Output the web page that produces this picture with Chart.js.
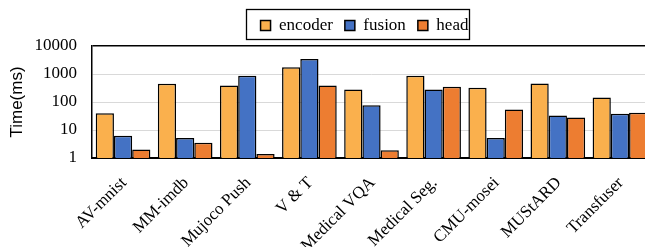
<!DOCTYPE html>
<html>
<head>
<meta charset="utf-8">
<script src="https://cdn.jsdelivr.net/npm/chart.js@4/dist/chart.umd.min.js"></script>
<style>
  html, body { margin: 0; padding: 0; background: #fff; overflow: hidden; }
  #wrap { width: 645px; height: 247px; overflow: hidden; }
</style>
</head>
<body>
<div id="wrap"><canvas id="grafico" width="651" height="247"></canvas></div>
<script>
const categorias = ['AV-mnist', 'MM-imdb', 'Mujoco Push', 'V & T', 'Medical VQA', 'Medical Seg.', 'CMU-mosei', 'MUStARD', 'Transfuser'];
const encoder = [40, 450, 390, 1750, 280, 860, 320, 460, 145];
const fusion = [6.2, 5.2, 860, 3400, 76, 280, 5.2, 33, 38];
const head = [2.0, 3.5, 1.4, 390, 1.9, 350, 54, 28, 41];
const ticksY = [1, 10, 100, 1000, 10000];

const serif = "'Liberation Serif', 'Times New Roman', serif";
const sans = "'Liberation Sans', Arial, sans-serif";

// marco alrededor de la leyenda + desplazarla como en el original
const marcoLeyenda = {
  id: 'marcoLeyenda',
  afterLayout(chart) {
    const lg = chart.legend;
    lg.left += 39;
    lg.right += 39;
    lg.top -= 2;
    lg.bottom -= 2;
  },
  afterDraw(chart) {
    const boxes = chart.legend.legendHitBoxes;
    if (!boxes || !boxes.length) return;
    const first = boxes[0], last = boxes[boxes.length - 1];
    const ctx = chart.ctx;
    ctx.save();
    ctx.strokeStyle = '#000';
    ctx.lineWidth = 1.3;
    const x0 = first.left - 15, x1 = last.left + last.width;
    const y0 = first.top - 8, y1 = first.top + first.height + 5;
    ctx.strokeRect(Math.round(x0) + 0.5, Math.round(y0) + 0.5, Math.round(x1 - x0), Math.round(y1 - y0));
    ctx.restore();
  }
};

const barra = (label, data, color) => ({
  label, data,
  backgroundColor: color,
  borderColor: '#000',
  borderWidth: 1.5,
  categoryPercentage: 0.88,
  barPercentage: 1.0
});

new Chart(document.getElementById('grafico'), {
  type: 'bar',
  data: {
    labels: categorias,
    datasets: [
      barra('encoder', encoder, '#FAB04D'),
      barra('fusion', fusion, '#4472C4'),
      barra('head', head, '#ED7D31')
    ]
  },
  options: {
    responsive: false,
    animation: false,
    devicePixelRatio: 1,
    layout: { padding: { top: 7, right: 0, left: 0, bottom: 0 } },
    plugins: {
      legend: {
        position: 'top',
        labels: {
          color: '#000',
          font: { family: serif, size: 17 },
          boxWidth: 10,
          boxHeight: 10,
          padding: 12
        }
      },
      tooltip: { enabled: false }
    },
    scales: {
      x: {
        grid: { display: false },
        border: { display: true, color: '#000', width: 2 },
        ticks: {
          color: '#000',
          font: { family: serif, size: 17 },
          minRotation: 45,
          maxRotation: 45,
          autoSkip: false,
          padding: 7,
          labelOffset: 1
        },
        afterFit(scale) { scale.height = 89; }
      },
      y: {
        type: 'logarithmic',
        min: 1,
        max: 10000,
        afterBuildTicks(scale) { scale.ticks = ticksY.map(v => ({ value: v })); },
        ticks: {
          color: '#000',
          font: { family: serif, size: 17 },
          padding: 15,
          callback: v => String(v)
        },
        grid: {
          drawTicks: false,
          color: ctx => (ctx.tick && ctx.tick.value === 10000) ? '#000' : '#d9d9d9',
          lineWidth: ctx => (ctx.tick && ctx.tick.value === 10000) ? 1.5 : 1
        },
        border: { display: true, color: '#000', width: 1.5 },
        title: {
          display: true,
          text: 'Time(ms)',
          color: '#000',
          font: { family: sans, size: 17 },
          padding: { top: 7, bottom: 0 }
        },
        afterFit(scale) { scale.width = 92; }
      }
    }
  },
  plugins: [marcoLeyenda]
});
</script>
</body>
</html>
